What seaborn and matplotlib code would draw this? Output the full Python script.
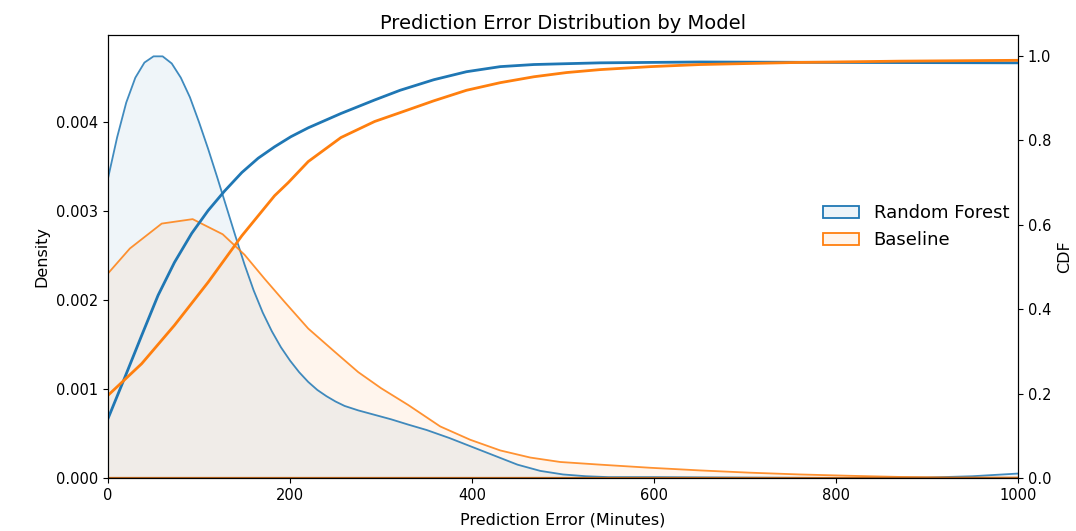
import matplotlib
matplotlib.use('Agg')
import matplotlib.pyplot as plt
from matplotlib.patches import Patch
import seaborn as sns

# density curves (in units of 1e-3)
rf_x = [0, 10, 20, 30, 40, 50, 60, 70, 80, 90, 100, 110, 120, 130, 140, 150, 160, 170,
        180, 190, 200, 210, 220, 230, 240, 250, 260, 275, 293, 311, 330, 350, 375, 400,
        425, 450, 475, 500, 525, 550, 600, 700, 800, 900, 950, 1000]
rf_density = [3.37, 3.83, 4.22, 4.50, 4.67, 4.74, 4.74, 4.66, 4.50, 4.28, 4.00, 3.70, 3.38,
              3.05, 2.72, 2.40, 2.11, 1.86, 1.65, 1.47, 1.32, 1.19, 1.08, 0.99, 0.92, 0.86,
              0.81, 0.76, 0.71, 0.66, 0.60, 0.54, 0.45, 0.35, 0.25, 0.15, 0.08, 0.04, 0.02,
              0.01, 0.01, 0.005, 0.0, 0.005, 0.02, 0.05]
rf_density = [v / 1000 for v in rf_density]

base_x = [0, 24, 59, 93, 126, 150, 172, 194, 220, 249, 275, 300, 330, 365, 398, 431, 464,
          497, 541, 596, 651, 705, 760, 815, 870, 930, 1000]
base_density = [2.30, 2.58, 2.86, 2.91, 2.74, 2.51, 2.24, 1.98, 1.68, 1.42, 1.19, 1.01, 0.82,
                0.58, 0.43, 0.31, 0.23, 0.18, 0.15, 0.115, 0.085, 0.06, 0.04, 0.025, 0.012,
                0.005, 0.005]
base_density = [v / 1000 for v in base_density]

# cumulative curves
rf_cdf_x = [0, 18, 37, 55, 73, 92, 110, 128, 147, 165, 183, 201, 220, 256, 293, 321, 358,
            394, 431, 468, 504, 541, 651, 800, 1000]
rf_cdf = [0.141, 0.236, 0.338, 0.433, 0.511, 0.580, 0.634, 0.680, 0.724, 0.758, 0.785, 0.809,
          0.830, 0.864, 0.896, 0.919, 0.944, 0.963, 0.975, 0.980, 0.982, 0.984, 0.986, 0.985,
          0.984]

base_cdf_x = [0, 37, 73, 110, 147, 183, 198, 220, 256, 293, 321, 358, 394, 431, 468, 504,
              541, 596, 651, 760, 870, 1000]
base_cdf = [0.196, 0.271, 0.362, 0.464, 0.574, 0.669, 0.70, 0.750, 0.807, 0.845, 0.866,
            0.894, 0.919, 0.937, 0.951, 0.961, 0.968, 0.975, 0.980, 0.985, 0.988, 0.990]

labels = ['Random Forest', 'Baseline']
blue = '#1f77b4'
orange = '#ff7f0e'

fig = plt.figure(figsize=(10.76, 5.31), dpi=100)
ax = fig.add_axes([0.1004, 0.0998, 0.8457, 0.8343])
ax2 = ax.twinx()

ax.fill_between(rf_x, rf_density, color=blue, alpha=0.07, lw=0)
ax.fill_between(base_x, base_density, color=orange, alpha=0.07, lw=0)
sns.lineplot(x=rf_x, y=rf_density, ax=ax, color=blue, lw=1.3, alpha=0.85)
sns.lineplot(x=base_x, y=base_density, ax=ax, color=orange, lw=1.3, alpha=0.85)
ax.axhline(0, color='#c06a1f', lw=1.6)

sns.lineplot(x=rf_cdf_x, y=rf_cdf, ax=ax2, color=blue, lw=2)
sns.lineplot(x=base_cdf_x, y=base_cdf, ax=ax2, color=orange, lw=2)

ax.set_xlim(0, 1000)
ax.set_ylim(0, 0.00498)
ax2.set_ylim(0, 1.05)

ax.set_xlabel('Prediction Error (Minutes)', fontsize=11.5, labelpad=7)
ax.set_ylabel('Density', fontsize=11.5, labelpad=5)
ax2.set_ylabel('CDF', fontsize=11.5)
ax.set_title('Prediction Error Distribution by Model', fontsize=14, pad=4)
ax.tick_params(labelsize=10.5)
ax2.tick_params(labelsize=10.5)

handles = [Patch(facecolor=(0.12, 0.47, 0.71, 0.08), edgecolor=blue, lw=1.3),
           Patch(facecolor=(1.0, 0.5, 0.05, 0.08), edgecolor=orange, lw=1.3)]
ax2.legend(handles, labels, loc='center right', bbox_to_anchor=(1.008, 0.567),
           frameon=False, fontsize=13)

plt.savefig('out.png', dpi=100)
